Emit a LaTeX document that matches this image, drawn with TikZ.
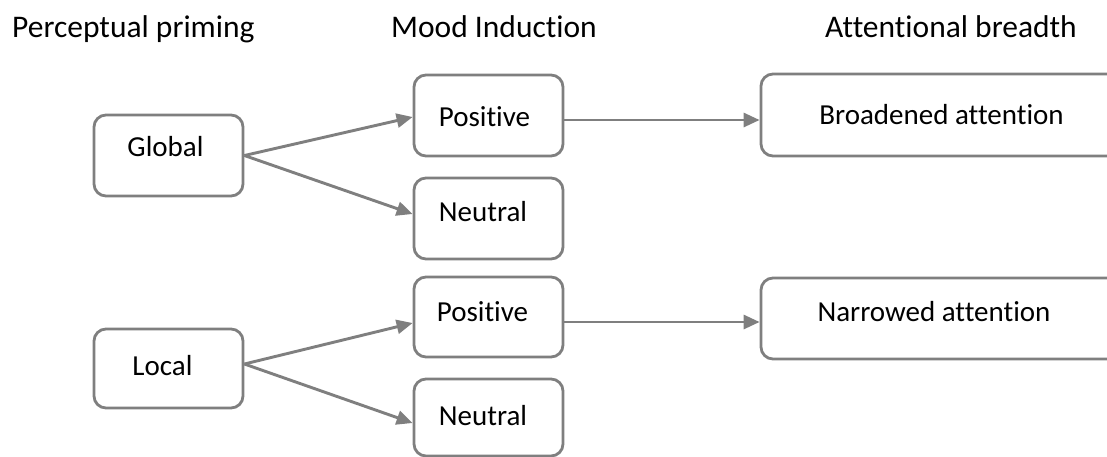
\documentclass[tikz,border=0pt]{standalone}
\usepackage{fontspec}
\setmainfont{Carlito}[Ligatures=NoCommon]
\usetikzlibrary{arrows.meta,calc}
\definecolor{edgegray}{HTML}{7F7F7F}
\begin{document}
\begin{tikzpicture}[x=1pt,y=-1pt,
  box/.style={draw=edgegray,line width=2.8pt,rounded corners=12pt,fill=white,
    inner sep=0pt,minimum width=149pt},
  wide/.style={box,minimum width=369pt},
  txt/.style={inner sep=0pt,font=\fontsize{29}{34}\selectfont,
    text height=18.7pt,text depth=0pt},
  head/.style={inner sep=0pt,anchor=base west,font=\fontsize{31.5}{36}\selectfont},
  link/.style={draw=edgegray,line width=2.9pt,
    -{Triangle[length=16pt,width=14pt]}}]
\useasboundingbox (0,0) rectangle (1107,456);
\clip (0,0) rectangle (1107,456);

% column headings
\node[head] (h1) at (12,37) {Perceptual priming};
\node[head] (h2) at (391,37) {Mood Induction};
\node[head] (h3) at (825,37) {Attentional breadth};

% priming boxes
\node[box,minimum height=81pt] (glob) at (168.5,155.5) {};
\node[box,minimum height=79pt] (loc)  at (168.5,368.5) {};
% mood boxes
\node[box,minimum height=81pt] (pos1) at (488.5,115.5) {};
\node[box,minimum height=81pt] (neu1) at (488.5,218.5) {};
\node[box,minimum height=80pt] (pos2) at (488.5,317) {};
\node[box,minimum height=77pt] (neu2) at (488.5,417.5) {};
% outcome boxes (run past the right edge)
\node[wide,minimum height=82pt] (broad)  at (945.5,115) {};
\node[wide,minimum height=81pt] (narrow) at (945.5,318.5) {};

% box texts
\node[txt] (glob-t)   at (165.5,147.5) {Global};
\node[txt] (loc-t)    at (162.5,366.5) {Local};
\node[txt] (pos1-t)   at (484.5,117)   {Positive};
\node[txt] (neu1-t)   at (483,212)     {Neutral};
\node[txt] (pos2-t)   at (482.5,312)   {Positive};
\node[txt] (neu2-t)   at (483,416.5)   {Neutral};
\node[txt] (broad-t)  at (941.5,115.5) {Broadened attention};
\node[txt] (narrow-t) at (934,312)     {Narrowed attention};

% connectors
\draw[link] (glob.east) -- ($(pos1.west)+(0,1.5)$);
\draw[link] (glob.east) -- ($(neu1.west)+(0,-4.5)$);
\draw[link] ($(loc.east)+(0,-4.5)$) -- ($(pos2.west)+(0,6)$);
\draw[link] ($(loc.east)+(0,-4.5)$) -- ($(neu2.west)+(0,5.5)$);
\draw[link] ($(pos1.east)+(0,4.5)$) -- ($(broad.west)+(0,5)$);
\draw[link] ($(pos2.east)+(0,5)$) -- ($(narrow.west)+(0,3.5)$);
\end{tikzpicture}
\end{document}
